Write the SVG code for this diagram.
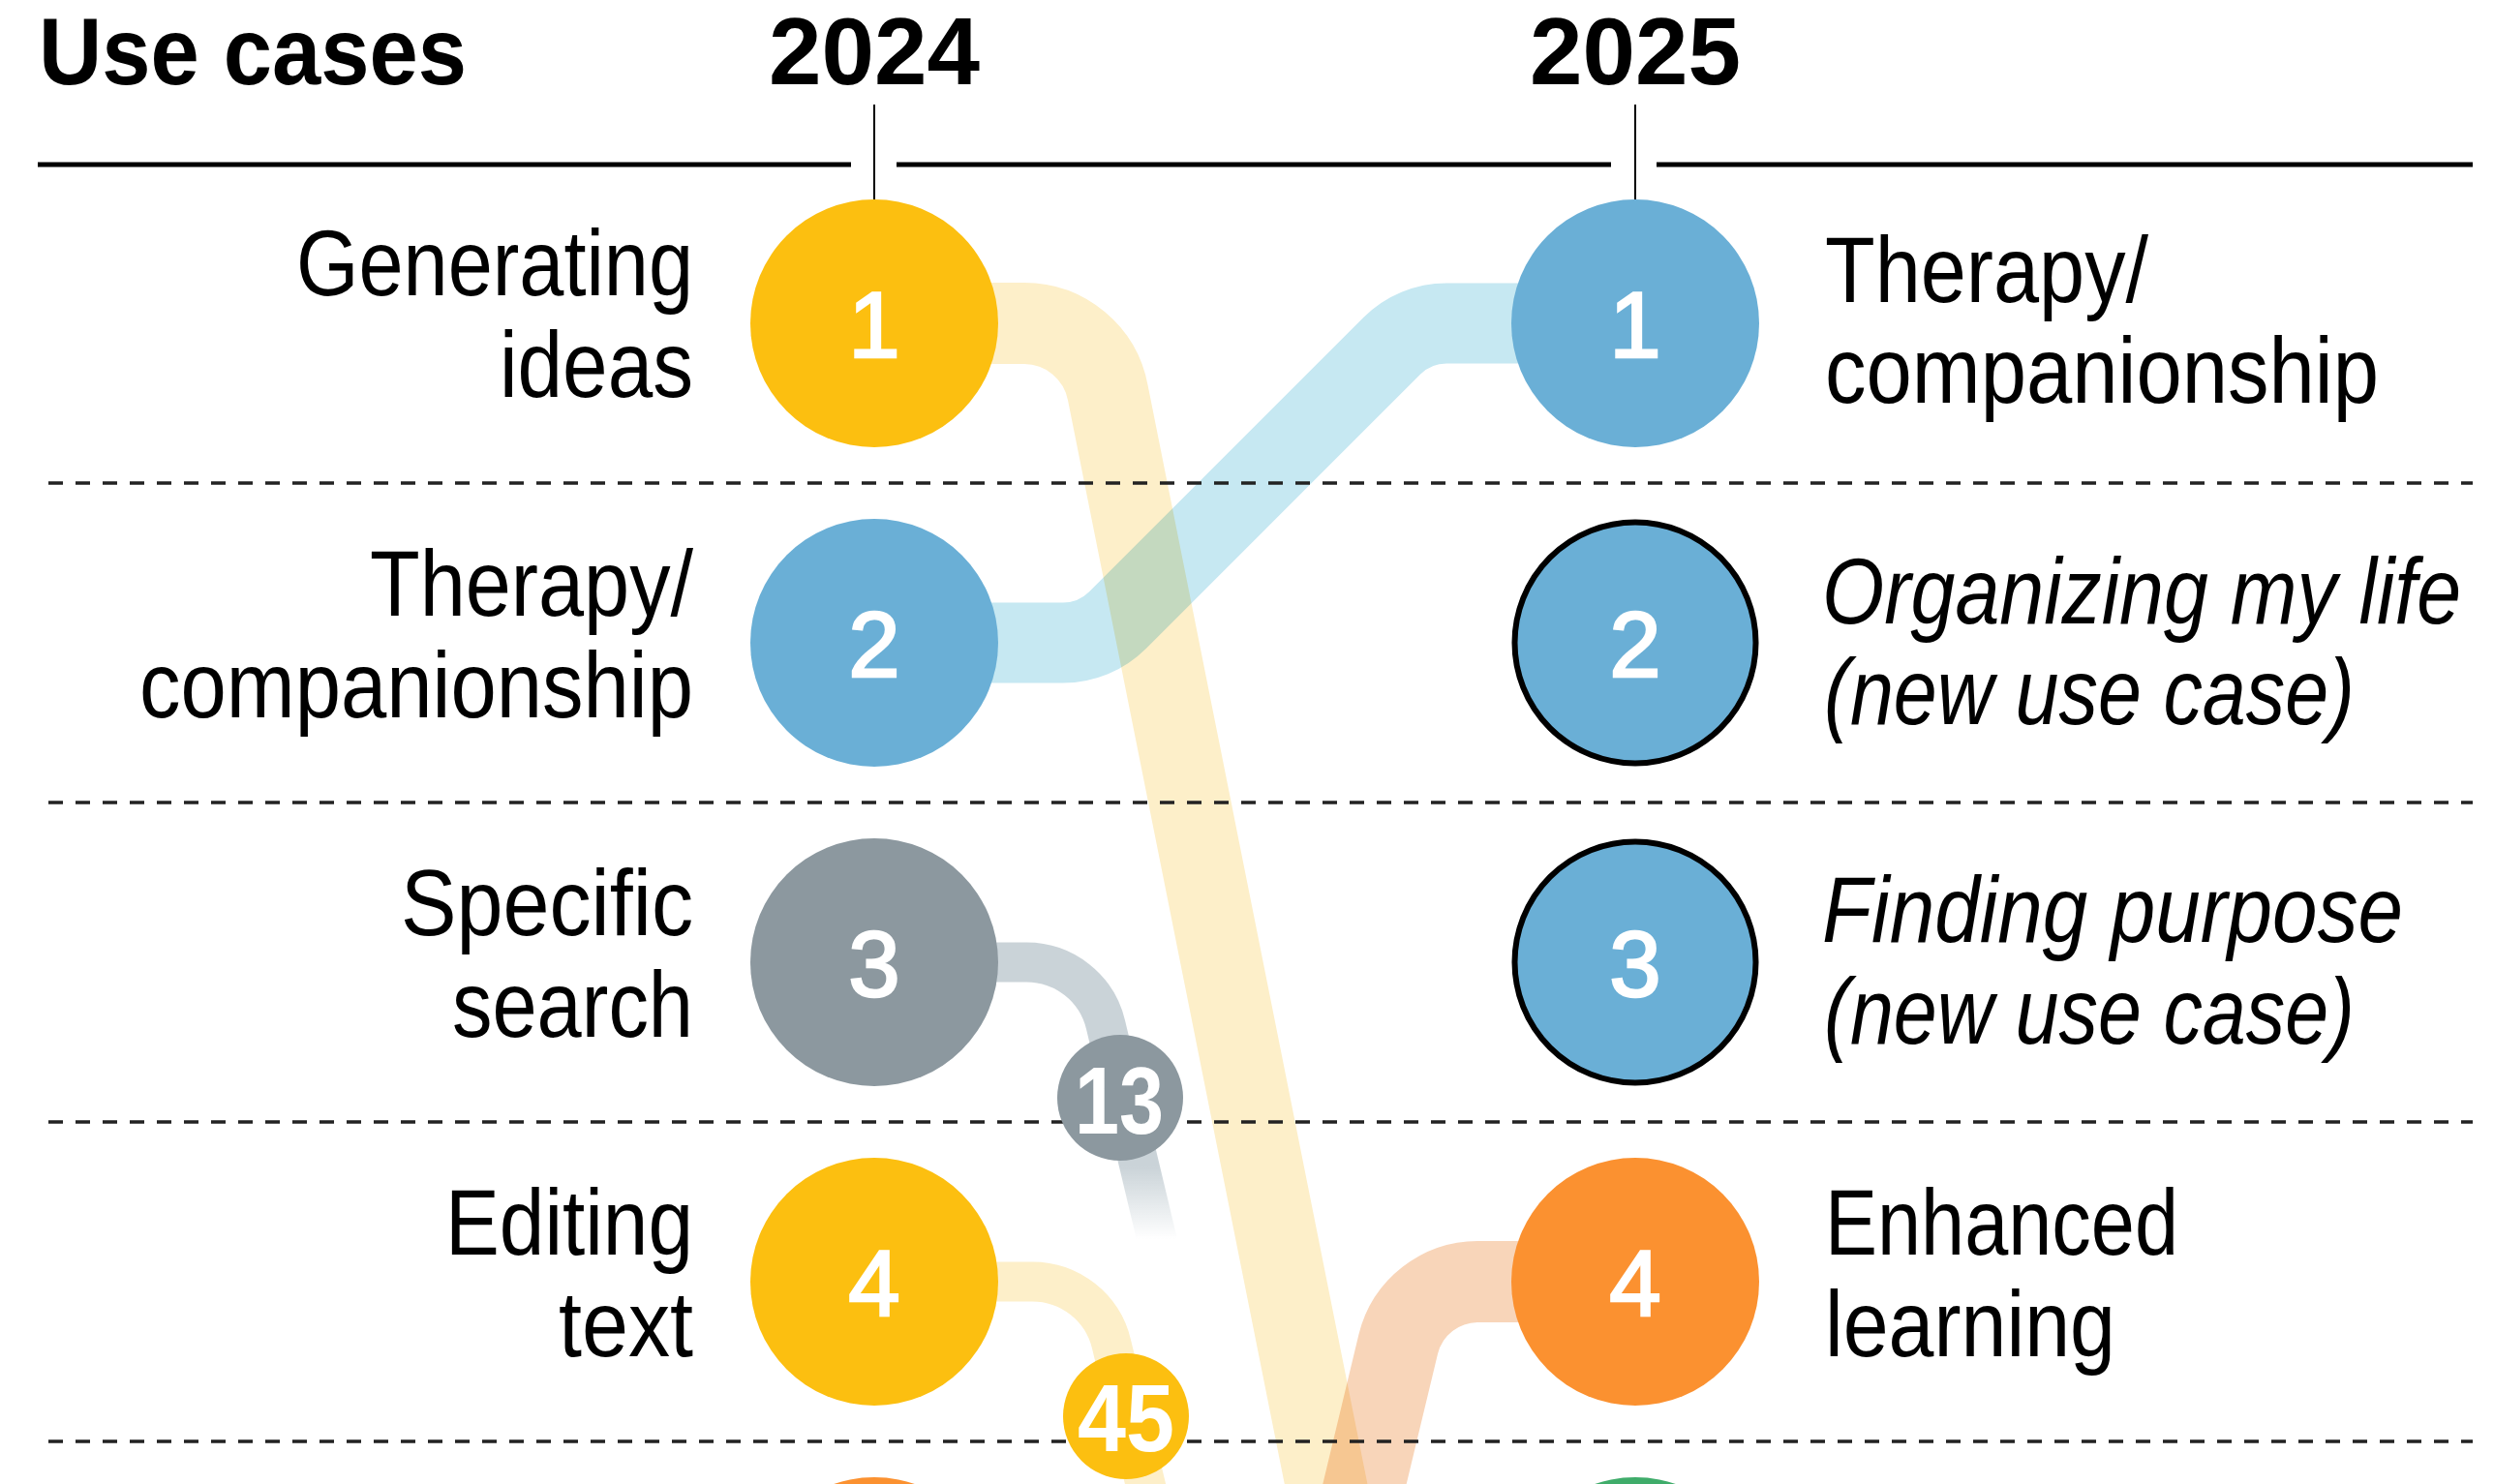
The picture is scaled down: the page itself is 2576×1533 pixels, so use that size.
<svg xmlns="http://www.w3.org/2000/svg" width="2576" height="1533" viewBox="0 0 2576 1533">
<defs>
<style>
.lbl{font-family:"Liberation Sans",Arial,sans-serif;font-size:96px;fill:#000}
.it{font-style:italic}
.hd{font-family:"Liberation Sans",Arial,sans-serif;font-size:98px;font-weight:bold;fill:#000}
.num{font-family:"Liberation Sans",Arial,sans-serif;font-size:96px;fill:#fff;stroke:#fff;stroke-width:2.5;text-anchor:middle}
.snum{font-family:"Liberation Sans",Arial,sans-serif;font-size:98px;font-weight:bold;fill:#fff;text-anchor:middle}
.band{fill:none;mix-blend-mode:multiply}
.dash{stroke:#222;stroke-width:3.5;stroke-dasharray:15 13;stroke-dashoffset:17;fill:none}
.rule{stroke:#000;stroke-width:5;fill:none}
.tick{stroke:#000;stroke-width:2;fill:none}
.new{stroke:#000;stroke-width:6}
.y{fill:#FCBF10}.b{fill:#6AAFD6}.g{fill:#8C989F}.o{fill:#FB9130}.gr{fill:#3FAC6A}
</style>
<linearGradient id="greyfade" gradientUnits="userSpaceOnUse" x1="0" y1="1205" x2="0" y2="1280">
<stop offset="0" stop-color="#CAD3D8" stop-opacity="1"/>
<stop offset="1" stop-color="#CAD3D8" stop-opacity="0"/>
</linearGradient>
</defs>
<rect width="2576" height="1533" fill="#fff"/>

<g id="header">
<text class="hd" x="40" y="87" textLength="442" lengthAdjust="spacingAndGlyphs">Use cases</text>
<text class="hd" x="903" y="87" text-anchor="middle">2024</text>
<text class="hd" x="1689" y="87" text-anchor="middle">2025</text>
<path class="rule" d="M39 170H879M926 170H1664M1711 170H2554"/>
<path class="tick" d="M903 108V206M1689 108V206"/>
</g>

<g id="connectors">
<path class="band" stroke="#FDEFC9" stroke-width="84" d="M903 334H1058A88 88 0 0 1 1144.3 405.8L1375 1560"/>
<path class="band" stroke="#C6E8F2" stroke-width="83" d="M903 664H1098A80 80 0 0 0 1154.4 640.6L1437.6 357.4A80 80 0 0 1 1494 334H1689"/>
<path class="band" stroke="url(#greyfade)" stroke-width="41" d="M903 994H1060A84 84 0 0 1 1142 1058.6L1214 1360"/>
<path class="band" stroke="#FDEFC9" stroke-width="41" d="M903 1324H1066A84 84 0 0 1 1148 1388.5L1192 1570"/>
<path class="band" stroke="#F8D5B9" stroke-width="84" d="M1689 1324H1527A85 85 0 0 0 1444.2 1388.6L1400.6 1570"/>
</g>

<g id="gridlines">
<path class="dash" d="M39 499H2554M39 829H2554M39 1159H2554M39 1489H2554"/>
</g>

<g id="n2024-1">
<circle class="y" cx="903" cy="334" r="128"/>
<text class="num" x="903" y="369">1</text>
<text class="lbl" x="716" y="305" text-anchor="end" textLength="410" lengthAdjust="spacingAndGlyphs">Generating</text>
<text class="lbl" x="716" y="410" text-anchor="end" textLength="200" lengthAdjust="spacingAndGlyphs">ideas</text>
</g>
<g id="n2024-2">
<circle class="b" cx="903" cy="664" r="128"/>
<text class="num" x="903" y="699">2</text>
<text class="lbl" x="716" y="636" text-anchor="end" textLength="334" lengthAdjust="spacingAndGlyphs">Therapy/</text>
<text class="lbl" x="716" y="741" text-anchor="end" textLength="572" lengthAdjust="spacingAndGlyphs">companionship</text>
</g>
<g id="n2024-3">
<circle class="g" cx="903" cy="994" r="128"/>
<text class="num" x="903" y="1029">3</text>
<text class="lbl" x="716" y="966" text-anchor="end" textLength="302" lengthAdjust="spacingAndGlyphs">Specific</text>
<text class="lbl" x="716" y="1071" text-anchor="end" textLength="249" lengthAdjust="spacingAndGlyphs">search</text>
</g>
<g id="n2024-4">
<circle class="y" cx="903" cy="1324" r="128"/>
<text class="num" x="903" y="1359">4</text>
<text class="lbl" x="716" y="1296" text-anchor="end" textLength="256" lengthAdjust="spacingAndGlyphs">Editing</text>
<text class="lbl" x="716" y="1401" text-anchor="end" textLength="139" lengthAdjust="spacingAndGlyphs">text</text>
</g>
<g id="n2024-5">
<circle class="o" cx="903" cy="1654" r="128"/>
</g>
<g id="n2025-specific-13">
<circle class="g" cx="1157" cy="1134" r="65"/>
<text class="snum" x="1156" y="1171" textLength="92" lengthAdjust="spacingAndGlyphs">13</text>
</g>
<g id="n2025-editing-45">
<circle class="y" cx="1163" cy="1463" r="65"/>
<text class="snum" x="1163" y="1499" textLength="100" lengthAdjust="spacingAndGlyphs">45</text>
</g>

<g id="n2025-1">
<circle class="b" cx="1689" cy="334" r="128"/>
<text class="num" x="1689" y="369">1</text>
<text class="lbl" x="1885" y="312" textLength="334" lengthAdjust="spacingAndGlyphs">Therapy/</text>
<text class="lbl" x="1885" y="416" textLength="572" lengthAdjust="spacingAndGlyphs">companionship</text>
</g>
<g id="n2025-2">
<circle class="b new" cx="1689" cy="664" r="124.5"/>
<text class="num" x="1689" y="699">2</text>
<text class="lbl it" x="1882" y="644" textLength="660" lengthAdjust="spacingAndGlyphs">Organizing my life</text>
<text class="lbl it" x="1884" y="748" textLength="548" lengthAdjust="spacingAndGlyphs">(new use case)</text>
</g>
<g id="n2025-3">
<circle class="b new" cx="1689" cy="994" r="124.5"/>
<text class="num" x="1689" y="1029">3</text>
<text class="lbl it" x="1882" y="973" textLength="600" lengthAdjust="spacingAndGlyphs">Finding purpose</text>
<text class="lbl it" x="1884" y="1078" textLength="548" lengthAdjust="spacingAndGlyphs">(new use case)</text>
</g>
<g id="n2025-4">
<circle class="o" cx="1689" cy="1324" r="128"/>
<text class="num" x="1689" y="1359">4</text>
<text class="lbl" x="1885" y="1296" textLength="365" lengthAdjust="spacingAndGlyphs">Enhanced</text>
<text class="lbl" x="1885" y="1401" textLength="300" lengthAdjust="spacingAndGlyphs">learning</text>
</g>
<g id="n2025-5">
<circle class="gr" cx="1689" cy="1654" r="128"/>
</g>
</svg>
